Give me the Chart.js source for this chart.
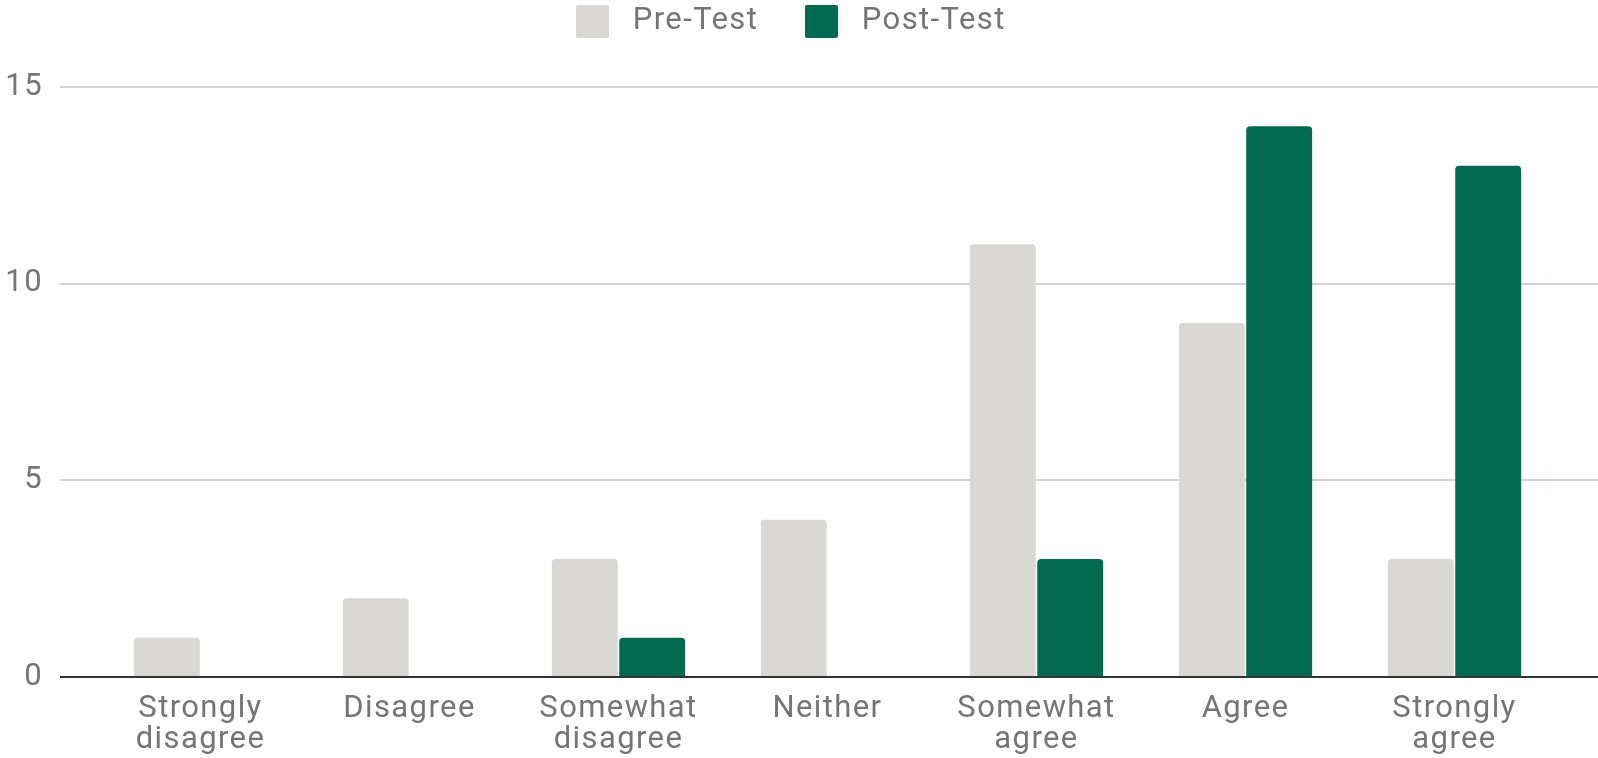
<!DOCTYPE html>
<html>
<head>
<meta charset="utf-8">
<script src="https://cdn.jsdelivr.net/npm/chart.js@4.4.1/dist/chart.umd.min.js"></script>
<style>
  html, body { margin: 0; padding: 0; background: #fff; }
  #wrap { width: 1598px; height: 758px; }
</style>
</head>
<body>
<div id="wrap"><canvas id="surveyChart" width="1598" height="758"></canvas></div>
<script>
// data
const categories = [
  ["Strongly", "disagree"], "Disagree", ["Somewhat", "disagree"], "Neither",
  ["Somewhat", "agree"], "Agree", ["Strongly", "agree"]
];
const preTest = [1, 2, 3, 4, 11, 9, 3];
const postTest = [0, 0, 1, 0, 3, 14, 13];
const yTicks = [0, 5, 10, 15];

const textColor = "#757575";
const fontFamily = "Roboto, 'Noto Sans', sans-serif";
const preColor = "#d9d8d4";
const postColor = "#036a4f";

// small rounded squares for the legend
function legendSwatch(color) {
  const c = document.createElement("canvas");
  c.width = 33;
  c.height = 33;
  const g = c.getContext("2d");
  g.fillStyle = color;
  g.beginPath();
  g.roundRect(0, 0, 33, 33, 2);
  g.fill();
  return c;
}
const swatches = [legendSwatch(preColor), legendSwatch(postColor)];

// gridlines run wider than the bar area, so draw them ourselves
const gridPlugin = {
  id: "wideGrid",
  beforeInit(chart) {
    const fit = chart.legend.fit;
    chart.legend.fit = function () {
      fit.bind(chart.legend)();
      this.height = 120;
    };
  },
  // legend sits a little right of the centre in the original
  afterLayout(chart) {
    chart.legend.left += 7;
    chart.legend.right += 7;
    chart.legend.top += 1;
  },
  // the text in the original is a bit wider than Roboto
  beforeLayout(chart) { chart.ctx.letterSpacing = "1.4px"; },
  beforeDraw(chart) { chart.ctx.letterSpacing = "1.4px"; },
  beforeDatasetsDraw(chart) {
    const ctx = chart.ctx;
    const y = chart.scales.y;
    ctx.save();
    ctx.strokeStyle = "#d2d2d2";
    ctx.lineWidth = 2;
    yTicks.forEach(v => {
      if (v === 0) return;
      const py = Math.round(y.getPixelForValue(v));
      ctx.beginPath();
      ctx.moveTo(60, py);
      ctx.lineTo(chart.width, py);
      ctx.stroke();
    });
    ctx.restore();
  },
  afterDatasetsDraw(chart) {
    const ctx = chart.ctx;
    const py = Math.round(chart.scales.y.getPixelForValue(0));
    ctx.save();
    ctx.strokeStyle = "#333333";
    ctx.lineWidth = 2;
    ctx.beginPath();
    ctx.moveTo(60, py);
    ctx.lineTo(chart.width, py);
    ctx.stroke();
    ctx.restore();
  }
};

const ctx = document.getElementById("surveyChart").getContext("2d");
new Chart(ctx, {
  type: "bar",
  data: {
    labels: categories,
    datasets: [
      {
        label: "Pre-Test",
        data: preTest,
        backgroundColor: preColor,
        borderRadius: { topLeft: 4, topRight: 4 },
        borderSkipped: "bottom"
      },
      {
        label: "Post-Test",
        data: postTest,
        backgroundColor: postColor,
        borderRadius: { topLeft: 4, topRight: 4 },
        borderSkipped: "bottom"
      }
    ]
  },
  options: {
    responsive: false,
    devicePixelRatio: 1,
    animation: false,
    categoryPercentage: 0.645,
    barPercentage: 0.978,
    layout: { padding: { top: -33, right: 39, left: 0, bottom: 0 } },
    plugins: {
      legend: {
        position: "top",
        align: "center",
        labels: {
          color: textColor,
          font: { family: fontFamily, size: 31 },
          usePointStyle: true,
          pointStyleWidth: 50,
          padding: 38,
          generateLabels(chart) {
            const items = Chart.defaults.plugins.legend.labels.generateLabels(chart);
            items.forEach((it, i) => { it.pointStyle = swatches[i]; });
            return items;
          }
        }
      },
      tooltip: { enabled: false }
    },
    scales: {
      x: {
        grid: { display: false, drawTicks: false },
        border: { display: false },
        ticks: {
          color: textColor,
          font: { family: fontFamily, size: 31, lineHeight: 1.0 },
          padding: 17,
          maxRotation: 0,
          autoSkip: false
        },
        afterFit(scale) { scale.height = 81; }
      },
      y: {
        min: 0,
        max: 15,
        grid: { display: false, drawTicks: false },
        border: { display: false },
        ticks: {
          stepSize: 5,
          color: textColor,
          font: { family: fontFamily, size: 31 },
          padding: 53
        },
        afterFit(scale) { scale.width = 96; }
      }
    }
  },
  plugins: [gridPlugin]
});
</script>
</body>
</html>
